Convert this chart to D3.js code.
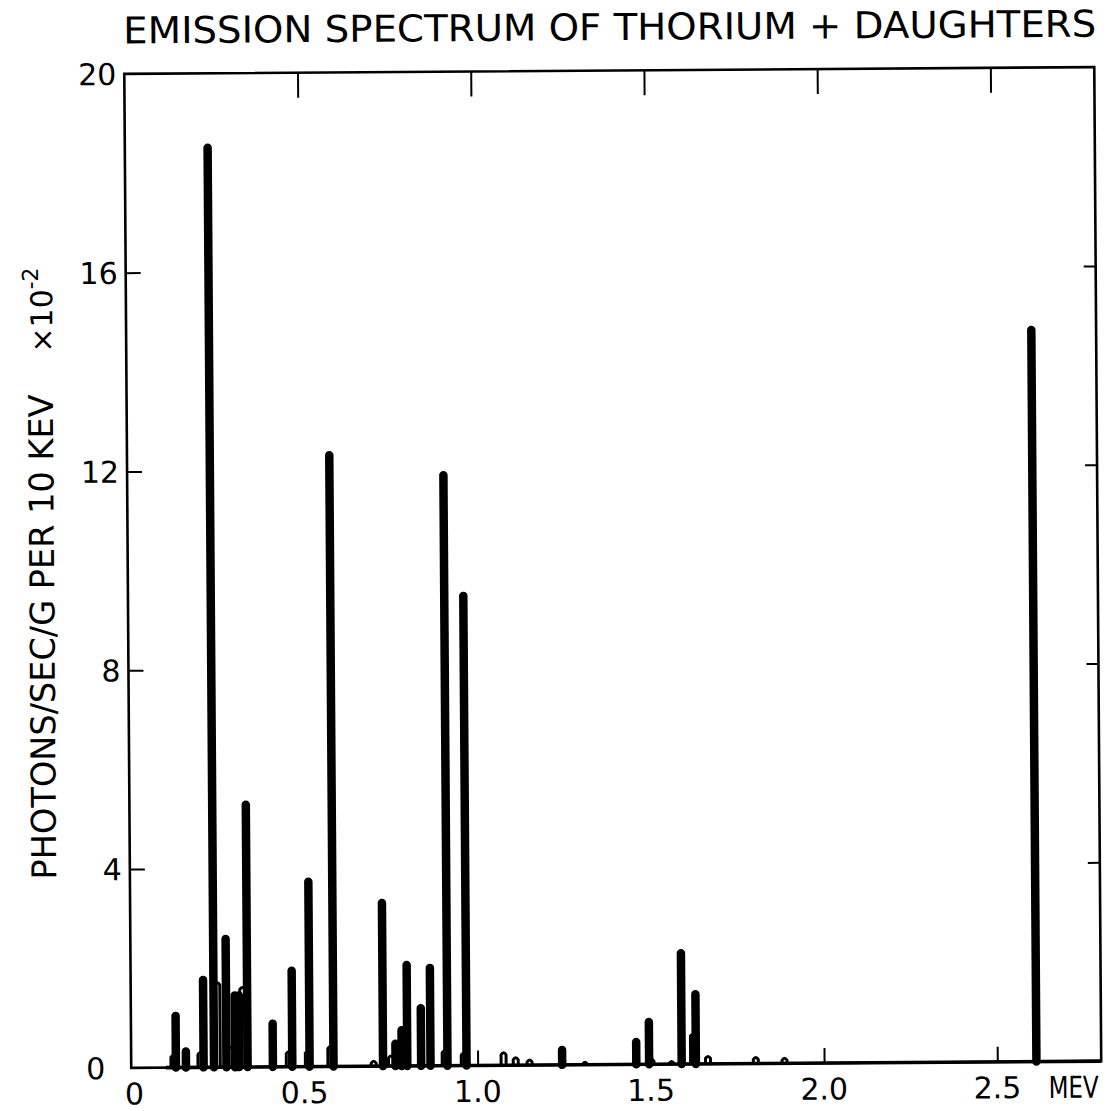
<!DOCTYPE html>
<html>
<head>
<meta charset="utf-8">
<script src="https://cdn.jsdelivr.net/npm/d3@7"></script>
<style>
  html, body { margin: 0; padding: 0; background: #fff; }
  svg { display: block; }
  text { font-family: "DejaVu Sans", sans-serif; fill: #000; }
</style>
</head>
<body>
<svg id="chart" width="1117" height="1111"></svg>
<script>
// Gamma lines of Th-232 and its daughters (energy in MeV, intensity in photons/sec/g per 10 keV, x10^-2)
const lineEnergy = [0.129, 0.158, 0.209, 0.239, 0.275, 0.300, 0.312, 0.336, 0.409, 0.465, 0.515, 0.584,
                    0.727, 0.763, 0.781, 0.797, 0.837, 0.864, 0.913, 0.968, 1.244, 1.458, 1.495, 1.589, 1.630, 2.613];
const lineValue  = [1.04, 0.32, 1.76, 18.5, 2.58, 1.44, 1.44, 5.28, 0.87, 1.93, 3.72, 12.3,
                    3.28, 0.45, 0.72, 2.03, 1.16, 1.97, 11.88, 9.45, 0.30, 0.45, 0.85, 2.23, 1.40, 14.72];

// Weak satellite lines and shoulders near the strong peaks
const minorEnergy = [0.122, 0.200, 0.250, 0.285, 0.322, 0.455, 0.575, 0.700, 0.750, 0.905, 0.960,
                     1.075, 1.110, 1.150, 1.310, 1.502, 1.560, 1.622, 1.665, 1.803, 1.886];
const minorValue  = [0.25, 0.30, 1.70, 0.40, 1.60, 0.30, 0.40, 0.10, 0.20, 0.30, 0.25,
                     0.25, 0.15, 0.10, 0.05, 0.10, 0.05, 0.60, 0.15, 0.12, 0.10];

const xTicks = [0, 0.5, 1.0, 1.5, 2.0, 2.5];
const xTickLabels = ["0", "0.5", "1.0", "1.5", "2.0", "2.5"];
const yTicks = [0, 4, 8, 12, 16, 20];
const yTickLabels = ["0", "4", "8", "12", "16", "20"];

const svg = d3.select("#chart");
const L = 127.75, R = 1097.75, T = 70.5, B = 1064.5;

// the whole plot sits a little askew on the page
const g = svg.append("g").attr("transform", "rotate(-0.4, 612.75, 567.5)");

const x = d3.scaleLinear().domain([0, 2.8]).range([L, R]);
const y = d3.scaleLinear().domain([0, 20]).range([B, T]);

// frame
g.append("rect")
  .attr("x", L).attr("y", T).attr("width", R - L).attr("height", B - T)
  .attr("fill", "none").attr("stroke", "#000").attr("stroke-width", 2.6);
g.append("line")
  .attr("x1", x(0.1)).attr("x2", R).attr("y1", B).attr("y2", B)
  .attr("stroke", "#000").attr("stroke-width", 3.6);

// top ticks (inward) and bottom ticks (inward)
const topTicks = d3.axisTop(x).tickValues(xTicks.slice(1)).tickSize(-25).tickFormat("");
const topAxis = g.append("g").attr("transform", `translate(0,${T})`).call(topTicks);
const botTicks = d3.axisBottom(x).tickValues(xTicks.slice(1)).tickSize(-15).tickFormat("");
const botAxis = g.append("g").attr("transform", `translate(0,${B})`).call(botTicks);
const leftTicks = d3.axisLeft(y).tickValues(yTicks.slice(1, -1)).tickSize(-15).tickFormat("");
const leftAxis = g.append("g").attr("transform", `translate(${L},0)`).call(leftTicks);
const rightTicks = d3.axisRight(y).tickValues(yTicks.slice(1, -1)).tickSize(-12).tickFormat("");
const rightAxis = g.append("g").attr("transform", `translate(${R},0)`).call(rightTicks);
[topAxis, botAxis, leftAxis, rightAxis].forEach(a => {
  a.select(".domain").remove();
  a.selectAll("line").attr("stroke", "#000").attr("stroke-width", 2);
});

// x tick labels
g.selectAll("text.xl").data(xTicks).join("text")
  .attr("class", "xl")
  .attr("x", d => x(d) + (d === 0 ? 3 : 0))
  .attr("y", 1101)
  .attr("text-anchor", "middle")
  .attr("font-size", 30)
  .text((d, i) => xTickLabels[i]);
g.append("text")
  .attr("x", 1045).attr("y", 1101)
  .attr("font-size", 30).attr("textLength", 50).attr("lengthAdjust", "spacingAndGlyphs")
  .text("MEV");

// y tick labels
g.selectAll("text.yl").data(yTicks).join("text")
  .attr("class", "yl")
  .attr("x", d => d === 0 ? L - 26 : L - 8)
  .attr("y", d => y(d) + 11)
  .attr("text-anchor", "end")
  .attr("font-size", 30)
  .text((d, i) => yTickLabels[i]);

// title
g.append("text")
  .attr("x", 127).attr("y", 40)
  .attr("font-size", 37)
  .attr("textLength", 973).attr("lengthAdjust", "spacingAndGlyphs")
  .text("EMISSION SPECTRUM OF THORIUM + DAUGHTERS");

// y axis title
const yt = g.append("g").attr("transform", "translate(54,633) rotate(-90)");
yt.append("text")
  .attr("x", 0).attr("y", 0)
  .attr("text-anchor", "middle")
  .attr("font-size", 34)
  .attr("textLength", 485).attr("lengthAdjust", "spacingAndGlyphs")
  .text("PHOTONS/SEC/G PER 10 KEV");
const ys = g.append("g").attr("transform", "translate(54,306) rotate(-90)");
const ysText = ys.append("text").attr("text-anchor", "middle").attr("font-size", 30);
ysText.append("tspan").text("×10");
ysText.append("tspan").attr("dy", -14).attr("font-size", 22).text("-2");

// spectrum: weak lines drawn as narrow pen loops
const loop = (e, v) => {
  const cx = x(e), top = y(v);
  return `M${cx - 2.5},${B} L${cx - 2.5},${top + 2} Q${cx},${top - 2} ${cx + 2.5},${top + 2} L${cx + 2.5},${B}`;
};
g.append("g").selectAll("path").data(minorEnergy).join("path")
  .attr("d", (d, i) => loop(d, minorValue[i]))
  .attr("fill", "none").attr("stroke", "#000").attr("stroke-width", 3)
  .attr("stroke-linejoin", "round");

// strong lines drawn as heavy strokes
const stroke = d3.line().x(d => x(d[0])).y(d => y(d[1]));
g.append("g").selectAll("path").data(lineEnergy).join("path")
  .attr("d", (d, i) => stroke([[d, 0], [d, lineValue[i]]]))
  .attr("fill", "none").attr("stroke", "#000").attr("stroke-width", 8.5)
  .attr("stroke-linecap", "round");
</script>
</body>
</html>
